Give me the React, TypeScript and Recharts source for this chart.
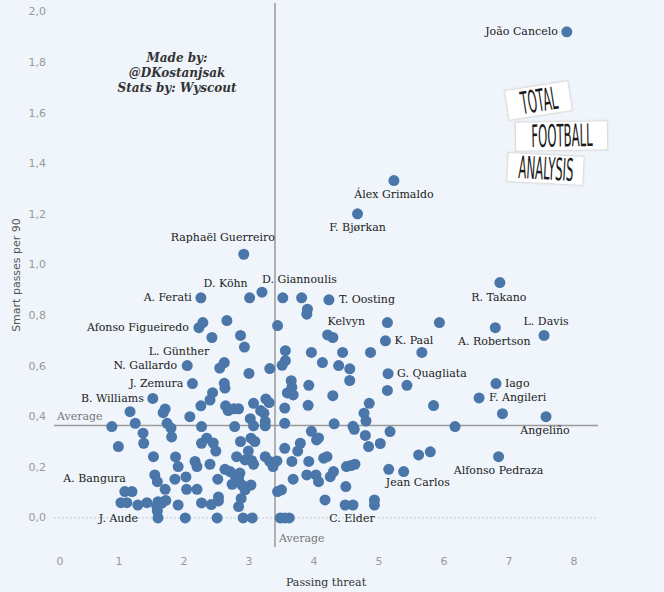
import React from 'react';
import { ScatterChart, Scatter, XAxis, YAxis, ReferenceLine } from 'recharts';

// ---------- DATA ----------
const labeledNames = [
  'João Cancelo', 'Álex Grimaldo', 'F. Bjørkan', 'Raphaël Guerreiro', 'D. Köhn', 'D. Giannoulis',
  'A. Ferati', 'Afonso Figueiredo', 'L. Günther', 'N. Gallardo', 'J. Zemura', 'B. Williams',
  'A. Bangura', 'J. Aude', 'T. Oosting', 'Kelvyn', 'K. Paal', 'R. Takano', 'L. Davis',
  'A. Robertson', 'G. Quagliata', 'Iago', 'F. Angileri', 'Angeliño', 'Alfonso Pedraza',
  'Jean Carlos', 'C. Elder',
];
const labeledThreat = [
  7.89, 5.23, 4.67, 2.92, 3.01, 3.2,
  2.26, 2.23, 2.43, 2.05, 2.13, 1.52,
  1.09, 1.6, 4.23, 4.21, 5.1, 6.86, 7.54,
  6.79, 5.14, 6.8, 6.54, 7.57, 6.84,
  5.15, 4.6,
];
const labeledSmart = [
  1.921, 1.333, 1.202, 1.042, 0.87, 0.892,
  0.87, 0.752, 0.713, 0.602, 0.531, 0.472,
  0.104, 0.0, 0.862, 0.723, 0.7, 0.93, 0.721,
  0.752, 0.57, 0.531, 0.474, 0.4, 0.242,
  0.192, 0.051,
];

const otherThreat = [
  2.29, 3.52, 3.81, 3.9, 3.89, 2.66, 3.44, 2.87, 2.93, 4.29,
  3.56, 3.96, 4.44, 4.87, 5.66, 5.13, 5.93, 4.13, 4.38, 4.55,
  4.55, 3.56, 3.51, 2.62, 2.55, 3.0, 3.32, 2.62, 2.63, 2.44,
  2.4, 3.65, 3.66, 3.59, 3.68, 3.92, 4.29, 5.13, 5.43, 4.85,
  4.77, 4.8, 5.84, 6.9, 6.17, 5.17, 4.79, 4.84, 5.02, 5.61,
  5.79, 4.31, 4.6, 4.62, 3.91, 3.55, 3.55, 3.96, 4.04, 4.07,
  3.79, 3.75, 3.55, 3.66, 3.92, 4.15, 4.2, 3.89, 4.03, 4.07,
  4.25, 4.3, 4.5, 4.57, 4.63, 3.68, 3.5, 3.44, 4.49, 5.38,
  4.17, 4.48, 4.93, 4.93, 3.48, 3.55, 3.62, 2.26, 2.64, 2.68,
  2.77, 2.84, 3.07, 3.26, 3.31, 3.18, 3.23, 3.02, 3.07, 3.25,
  3.25, 2.78, 2.27, 2.09, 1.17, 1.71, 1.68, 0.89, 1.25, 1.74,
  1.8, 1.81, 1.37, 1.38, 0.99, 2.35, 2.27, 2.45, 2.49, 2.87,
  3.03, 3.09, 2.99, 2.81, 2.94, 3.04, 3.07, 3.25, 3.32, 3.37,
  3.43, 1.53, 1.87, 1.91, 2.17, 2.2, 2.4, 2.63, 2.71, 2.78,
  2.86, 2.84, 2.74, 2.89, 2.94, 3.03, 2.52, 1.55, 1.59, 1.86,
  2.03, 1.71, 2.04, 2.2, 1.2, 1.03, 1.12, 1.29, 1.43, 1.6,
  1.58, 1.59, 1.66, 1.72, 1.91, 2.02, 2.27, 2.42, 2.53, 2.53,
  2.51, 2.88, 2.84, 2.91, 3.05,
];
const otherSmart = [
  0.772, 0.87, 0.87, 0.825, 0.805, 0.78, 0.76, 0.721, 0.675, 0.713,
  0.661, 0.654, 0.654, 0.654, 0.654, 0.772, 0.772, 0.614, 0.602, 0.589,
  0.543, 0.622, 0.603, 0.614, 0.592, 0.571, 0.59, 0.532, 0.513, 0.495,
  0.466, 0.542, 0.516, 0.494, 0.486, 0.524, 0.483, 0.504, 0.524, 0.453,
  0.414, 0.383, 0.444, 0.412, 0.361, 0.341, 0.326, 0.282, 0.294, 0.249,
  0.261, 0.372, 0.362, 0.35, 0.445, 0.434, 0.374, 0.342, 0.308, 0.316,
  0.295, 0.264, 0.275, 0.223, 0.223, 0.236, 0.242, 0.17, 0.17, 0.143,
  0.163, 0.183, 0.203, 0.207, 0.212, 0.153, 0.111, 0.104, 0.124, 0.183,
  0.071, 0.051, 0.071, 0.051, 0.0, 0.0, 0.0, 0.443, 0.443, 0.424,
  0.431, 0.431, 0.453, 0.47, 0.456, 0.424, 0.414, 0.392, 0.364, 0.364,
  0.381, 0.361, 0.361, 0.4, 0.42, 0.43, 0.416, 0.361, 0.374, 0.374,
  0.355, 0.32, 0.335, 0.295, 0.282, 0.315, 0.295, 0.296, 0.264, 0.302,
  0.315, 0.302, 0.264, 0.242, 0.229, 0.227, 0.212, 0.242, 0.223, 0.203,
  0.225, 0.242, 0.241, 0.203, 0.223, 0.203, 0.212, 0.192, 0.183, 0.17,
  0.177, 0.157, 0.133, 0.13, 0.111, 0.13, 0.153, 0.17, 0.143, 0.153,
  0.162, 0.113, 0.113, 0.113, 0.104, 0.06, 0.06, 0.051, 0.06, 0.064,
  0.047, 0.028, 0.058, 0.069, 0.051, 0.0, 0.059, 0.053, 0.083, 0.067,
  0.0, 0.077, 0.045, 0.0, 0.0,
];

const xTicks = [0, 1, 2, 3, 4, 5, 6, 7, 8];
const yTicks = [0, 0.2, 0.4, 0.6, 0.8, 1.0, 1.2, 1.4, 1.6, 1.8, 2.0];
const averageThreat = 3.4;
const averageSmart = 0.365;

// ---------- LAYOUT / STYLE (not data) ----------
type Anchor = 'start' | 'middle' | 'end';
const LABEL_LAYOUT: Record<string, [number, number, Anchor]> = {
  'João Cancelo': [-9, 0, 'end'],
  'Álex Grimaldo': [0, 14, 'middle'],
  'F. Bjørkan': [0, 14, 'middle'],
  'Raphaël Guerreiro': [-21, -17, 'middle'],
  'D. Köhn': [-24, -14, 'middle'],
  'D. Giannoulis': [0, -13, 'start'],
  'A. Ferati': [-9, 0, 'end'],
  'Afonso Figueiredo': [-10, 0, 'end'],
  'L. Günther': [-33, 14, 'middle'],
  'N. Gallardo': [-10, 0, 'end'],
  'J. Zemura': [-9, 0, 'end'],
  'B. Williams': [-9, 0, 'end'],
  'A. Bangura': [1, -13, 'end'],
  'J. Aude': [-20, 1, 'end'],
  'T. Oosting': [10, 0, 'start'],
  'Kelvyn': [0, -13, 'start'],
  'K. Paal': [9, 0, 'start'],
  'R. Takano': [-1, 15, 'middle'],
  'L. Davis': [2, -14, 'middle'],
  'A. Robertson': [-1, 14, 'middle'],
  'G. Quagliata': [9, 0, 'start'],
  'Iago': [9, 0, 'start'],
  'F. Angileri': [10, 0, 'start'],
  'Angeliño': [-1, 14, 'middle'],
  'Alfonso Pedraza': [0, 14, 'middle'],
  'Jean Carlos': [-3, 13, 'start'],
  'C. Elder': [-1, 14, 'middle'],
};

const BG = '#eff5fa';
const DOT = '#4a76a9';
const R = 5.5;
const SERIF = "'DejaVu Serif', serif";
const SANS = "'DejaVu Sans', sans-serif";

const labeledData = labeledNames.map((name, i) => ({ name, x: labeledThreat[i], y: labeledSmart[i] }));
const otherData = otherThreat.map((x, i) => ({ x, y: otherSmart[i] }));

const fmt = (v: number) => v.toFixed(1).replace('.', ',');

const PlainDot = (p: any) => <circle cx={p.cx} cy={p.cy} r={R} fill={DOT} />;

const LabeledDot = (p: any) => {
  const name = p.payload?.name ?? '';
  const [dx, dy, anchor] = LABEL_LAYOUT[name] || [9, 0, 'start'];
  return (
    <g>
      <circle cx={p.cx} cy={p.cy} r={R} fill={DOT} />
      <text
        x={p.cx + dx}
        y={p.cy + dy}
        textAnchor={anchor}
        dominantBaseline="central"
        fontFamily={SERIF}
        fontSize={11}
        fill="#222"
      >
        {name}
      </text>
    </g>
  );
};

const XTick = (p: any) => {
  const v = p.payload.value;
  return (
    <text
      x={p.x + (v === 0 ? 6 : 0)}
      y={p.y + 6}
      textAnchor="middle"
      dominantBaseline="central"
      fontFamily={SANS}
      fontSize={11}
      fill="#999"
    >
      {v}
    </text>
  );
};

const YTick = (p: any) => (
  <text
    x={p.x}
    y={p.y}
    textAnchor="end"
    dominantBaseline="central"
    fontFamily={SANS}
    fontSize={11}
    fill="#999"
  >
    {fmt(p.payload.value)}
  </text>
);

const HAvgLabel = (p: any) => {
  const vb = p.viewBox || {};
  return (
    <text x={(vb.x ?? 54) + 3} y={(vb.y ?? 0) - 9} fontFamily={SERIF} fontSize={11} fill="#777" dominantBaseline="central">
      Average
    </text>
  );
};

const VAvgLabel = (p: any) => {
  const vb = p.viewBox || {};
  return (
    <text
      x={(vb.x ?? 0) + 4}
      y={(vb.y ?? 0) + (vb.height ?? 0) - 9}
      fontFamily={SERIF}
      fontSize={11}
      fill="#777"
      dominantBaseline="central"
    >
      Average
    </text>
  );
};

const XTitle = (p: any) => {
  const vb = p.viewBox || {};
  return (
    <text
      x={(vb.x ?? 0) + (vb.width ?? 0) / 2}
      y={582}
      textAnchor="middle"
      dominantBaseline="central"
      fontFamily={SERIF}
      fontSize={11}
      fill="#333"
    >
      Passing threat
    </text>
  );
};

const YTitle = () => (
  <text
    transform="translate(16,275) rotate(-90)"
    textAnchor="middle"
    dominantBaseline="central"
    fontFamily={SANS}
    fontSize={11}
    fill="#555"
  >
    Smart passes per 90
  </text>
);

const logoText: React.CSSProperties = {
  position: 'absolute',
  left: '50%',
  top: '50%',
  fontFamily: "'DejaVu Sans Condensed', 'DejaVu Sans', sans-serif",
  fontWeight: 200,
  fontSize: 31,
  lineHeight: '31px',
  color: '#1b1b1b',
  transform: 'translate(-50%, -50%) scaleX(0.42)',
  whiteSpace: 'nowrap',
};

const LogoBox = ({ left, top, w, h, rot, text }: any) => (
  <div
    style={{
      position: 'absolute',
      left,
      top,
      width: w,
      height: h,
      background: '#fff',
      border: '1px solid #dcdcdc',
      boxShadow: '0 0 2px rgba(0,0,0,0.12)',
      transform: `rotate(${rot}deg)`,
    }}
  >
    <span style={logoText}>{text}</span>
  </div>
);

export default function App() {
  return (
    <div style={{ position: 'absolute', left: 0, top: 0, width: 664, height: 592, background: BG, overflow: 'hidden' }}>
      <ScatterChart width={664} height={592} margin={{ top: 3, right: 66, bottom: 0, left: 0 }}>
        <XAxis
          type="number"
          dataKey="x"
          domain={[0, 8.37]}
          ticks={xTicks}
          allowDataOverflow
          axisLine={false}
          tickLine={false}
          height={45}
          tick={<XTick />}
          label={<XTitle />}
        />
        <YAxis
          type="number"
          dataKey="y"
          domain={[-0.115, 2.035]}
          ticks={yTicks}
          allowDataOverflow
          axisLine={false}
          tickLine={false}
          width={54}
          tick={<YTick />}
          label={<YTitle />}
        />
        <ReferenceLine y={0} stroke="#c8cdd2" strokeDasharray="2 2" strokeWidth={1} />
        <ReferenceLine x={averageThreat} stroke="#9a9a9a" strokeWidth={1.5} label={<VAvgLabel />} />
        <ReferenceLine y={averageSmart} stroke="#9a9a9a" strokeWidth={1.5} label={<HAvgLabel />} />
        <Scatter data={otherData} shape={<PlainDot />} isAnimationActive={false} />
        <Scatter data={labeledData} shape={<LabeledDot />} isAnimationActive={false} />
      </ScatterChart>

      <div
        style={{
          position: 'absolute',
          left: 77,
          top: 51,
          width: 200,
          textAlign: 'center',
          fontFamily: SERIF,
          fontWeight: 'bold',
          fontStyle: 'italic',
          fontSize: 12,
          lineHeight: '15px',
          color: '#333',
        }}
      >
        <div>Made by:</div>
        <div>@DKostanjsak</div>
        <div>Stats by: Wyscout</div>
      </div>

      <LogoBox left={506} top={85} w={63} h={29} rot={-9} text="TOTAL" />
      <LogoBox left={515} top={121} w={91} h={28} rot={-1} text="FOOTBALL" />
      <LogoBox left={507} top={154} w={75} h={28} rot={3} text="ANALYSIS" />
    </div>
  );
}
